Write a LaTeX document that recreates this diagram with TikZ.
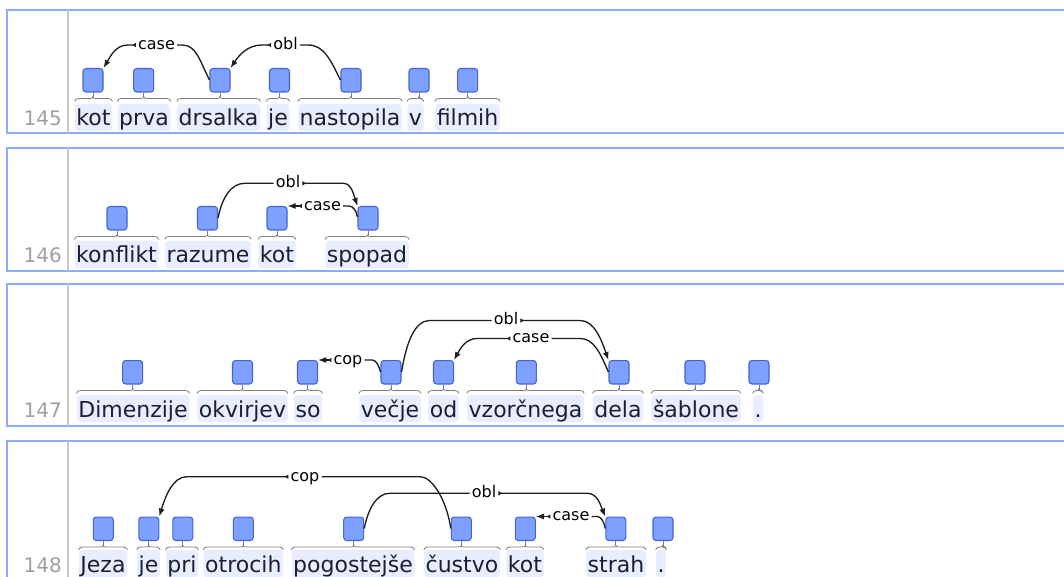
\documentclass[tikz,border=0pt]{standalone}
\usepackage{fontspec}
\setmainfont{DejaVu Sans}
\usetikzlibrary{calc,arrows.meta}
\definecolor{hl}{RGB}{232,238,255}
\definecolor{boxfill}{RGB}{126,160,255}
\definecolor{boxdraw}{RGB}{70,100,210}
\definecolor{bracec}{RGB}{125,125,125}
\definecolor{rowc}{RGB}{140,170,255}
\definecolor{sepc}{RGB}{200,200,200}
\definecolor{numc}{RGB}{160,160,160}
\definecolor{wordc}{RGB}{30,30,50}
\definecolor{arcc}{RGB}{30,30,30}
\newcommand\mytok[6]{%
  \node[word] (w#1) at (#2,#4) {#6};
  \node[tokbox] (b#1) at (#3,#5) {};
  \draw[brace] (b#1.south) -- ++(0,4);
  \draw[brace] ($(w#1.west |- b#1.south)+(0,9)$) .. controls +(0,-2) and +(-2,0) .. ++(4,-3)
     -- ($(b#1.south)+(-3,6)$) .. controls +(2,0) and +(0,1.5) .. ($(b#1.south)+(0,4)$)
     .. controls +(0,1.5) and +(-2,0) .. ($(b#1.south)+(3,6)$)
     -- ($(w#1.east |- b#1.south)+(-4,6)$) .. controls +(2,0) and +(0,-2) .. ++(4,3);
}
\begin{document}
\begin{tikzpicture}[x=0.75pt,y=-0.75pt,
  word/.style={font=\fontsize{16.5pt}{19pt}\selectfont, text=wordc, fill=hl, rounded corners=2.5pt, inner xsep=1.2pt, inner ysep=0pt, text height=16.5pt, text depth=3.75pt, anchor=base},
  tokbox/.style={draw=boxdraw, fill=boxfill, line width=0.8pt, rounded corners=2.2pt, minimum width=15pt, minimum height=17.6pt, inner sep=0pt, anchor=north},
  brace/.style={draw=bracec, line width=0.6pt},
  lbl/.style={font=\fontsize{12pt}{14pt}\selectfont, text=black, inner xsep=1.5pt, inner ysep=0pt, text height=6.6pt, text depth=0pt},
  num/.style={font=\fontsize{15pt}{18pt}\selectfont, text=numc, anchor=base east, inner sep=0pt},
  rowbox/.style={draw=rowc, line width=1.5pt},
  sepline/.style={draw=sepc, line width=1.5pt},
  arcline/.style={draw=arcc, line width=1pt},
  toarrow/.style={arcline, {Latex[reversed,length=3pt,width=3.5pt]}-{Latex[length=6pt,width=4.5pt]}}
]
\useasboundingbox (0,0) rectangle (1064,577);
\fill[white] (0,0) rectangle (1064,577);
% rows
\draw[rowbox] (7,10) rectangle (1090,133);
\draw[rowbox] (7,148.5) rectangle (1090,271);
\draw[rowbox] (7,284) rectangle (1090,426);
\draw[rowbox] (7,441) rectangle (1090,610);
\draw[sepline] (67.5,10) -- (67.5,133);
\draw[sepline] (67.5,148.5) -- (67.5,271);
\draw[sepline] (67.5,284) -- (67.5,426);
\draw[sepline] (67.5,441) -- (67.5,610);
\node[num] (n145) at (62,126) {145};
\node[num] (n146) at (62,263) {146};
\node[num] (n147) at (62,417) {147};
\node[num] (n148) at (62,572) {148};
% row 1
\mytok{r1kot}{93.5}{93}{126}{68}{kot}
\mytok{r1prva}{144}{143.7}{126}{68}{prva}
\mytok{r1drs}{218.5}{220}{126}{68}{drsalka}
\mytok{r1je}{278}{279.5}{126}{68}{je}
\mytok{r1nas}{350}{351}{126}{68}{nastopila}
\mytok{r1v}{415.5}{419}{126}{68}{v}
\mytok{r1fil}{467.5}{467.7}{126}{68}{filmih}
% row 2
\mytok{r2kon}{116.5}{117}{263}{206}{konflikt}
\mytok{r2raz}{208}{207.5}{263}{206}{razume}
\mytok{r2kot}{277}{277}{263}{206}{kot}
\mytok{r2spo}{367}{368}{263}{206}{spopad}
% row 3
\mytok{r3dim}{133}{132.7}{417}{360}{Dimenzije}
\mytok{r3okv}{242.5}{242.5}{417}{360}{okvirjev}
\mytok{r3so}{308}{307.5}{417}{360}{so}
\mytok{r3vec}{390}{391}{417}{360}{večje}
\mytok{r3od}{443.5}{443.5}{417}{360}{od}
\mytok{r3vzo}{525.5}{526.3}{417}{360}{vzorčnega}
\mytok{r3del}{618}{619}{417}{360}{dela}
\mytok{r3sab}{696}{695}{417}{360}{šablone}
\mytok{r3dot}{758}{759}{417}{360}{.}
% row 4
\mytok{r4jez}{103}{103.3}{572}{516.5}{Jeza}
\mytok{r4je}{148.5}{148.8}{572}{516.5}{je}
\mytok{r4pri}{182}{182.8}{572}{516.5}{pri}
\mytok{r4otr}{243.3}{243.3}{572}{516.5}{otrocih}
\mytok{r4pog}{353}{353.7}{572}{516.5}{pogostejše}
\mytok{r4cus}{462}{461.3}{572}{516.5}{čustvo}
\mytok{r4kot}{525}{525.3}{572}{516.5}{kot}
\mytok{r4str}{616}{615.8}{572}{516.5}{strah}
\mytok{r4dot}{661}{663}{572}{516.5}{.}
% arcs row 1
\node[lbl] (l1case) at (156.5,45) {case};
\node[lbl] (l1obl) at (285.5,45) {obl};
\draw[toarrow] (l1case.west) -- ++(-8,0) .. controls +(-12,0) and +(7,-12) .. (br1kot.north east);
\draw[arcline] (l1case.east) -- ++(5,0) .. controls +(14,0) and +(-10,-20) .. ($(br1drs.north west)+(0,12)$);
\draw[toarrow] (l1obl.west) -- ++(-9,0) .. controls +(-15,0) and +(8,-12) .. (br1drs.north east);
\draw[arcline] (l1obl.east) -- ++(8,0) .. controls +(16,0) and +(-10,-20) .. ($(br1nas.north west)+(0,12)$);
% arcs row 2
\node[lbl] (l2obl) at (288,183.3) {obl};
\node[lbl] (l2case) at (322.5,206) {case};
\draw[arcline] (l2obl.west) -- ++(-28.8,0) .. controls +(-14,0) and +(4,-20) .. ($(br2raz.north east)+(0,12)$);
\draw[toarrow] (l2obl.east) -- ++(40.8,0) .. controls +(8,0) and +(-4,-12) .. (br2spo.north west);
\draw[toarrow] (l2case.west) -- (l2case.west -| br2kot.north east);
\draw[arcline] (l2case.east) -- ++(6,0) .. controls +(4,0) and +(-1,-6) .. ($(br2spo.north west)+(0,11)$);
% arcs row 3
\node[lbl] (l3cop) at (348,360) {cop};
\node[lbl] (l3obl) at (506,320.5) {obl};
\node[lbl] (l3case) at (531,338.5) {case};
\draw[toarrow] (l3cop.west) -- (l3cop.west -| br3so.north east);
\draw[arcline] (l3cop.east) -- ++(7.6,0) .. controls +(4,0) and +(-1.5,-6) .. ($(br3vec.north west)+(0,12)$);
\draw[arcline] (l3obl.west) -- ++(-61.8,0) .. controls +(-15,0) and +(5,-30) .. ($(br3vec.north east)+(0,12)$);
\draw[toarrow] (l3obl.east) -- ++(59.8,0) .. controls +(14,0) and +(-7,-20) .. (br3del.north west);
\draw[toarrow] (l3case.west) -- ++(-33.6,0) .. controls +(-11,0) and +(6,-11) .. (br3od.north east);
\draw[arcline] (l3case.east) -- ++(28.6,0) .. controls +(14,0) and +(-8,-18) .. ($(br3del.north west)+(0,12)$);
% arcs row 4
\node[lbl] (l4cop) at (305,476.7) {cop};
\node[lbl] (l4obl) at (484,493.3) {obl};
\node[lbl] (l4case) at (571,516.5) {case};
\draw[toarrow] (l4cop.west) -- ++(-101.6,0) .. controls +(-14,0) and +(6,-20) .. (br4je.north east);
\draw[arcline] (l4cop.east) -- ++(98.6,0) .. controls +(12,0) and +(-4,-28) .. ($(br4cus.north west)+(0,12)$);
\draw[arcline] (l4obl.west) -- ++(-79.8,0) .. controls +(-13,0) and +(4,-20) .. ($(br4pog.north east)+(0,12)$);
\draw[toarrow] (l4obl.east) -- ++(88.8,0) .. controls +(10,0) and +(-5,-12) .. (br4str.north west);
\draw[toarrow] (l4case.west) -- (l4case.west -| br4kot.north east);
\draw[arcline] (l4case.east) -- ++(5.6,0) .. controls +(4,0) and +(-1,-6) .. ($(br4str.north west)+(0,12)$);
\end{tikzpicture}
\end{document}
